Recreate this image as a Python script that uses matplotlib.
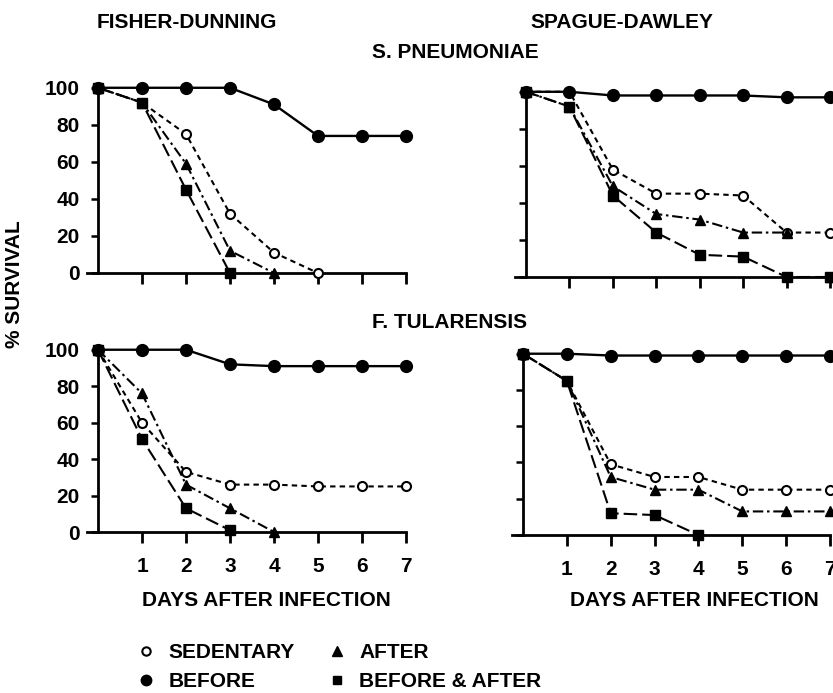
import numpy as np
import matplotlib
matplotlib.use("Agg")
import matplotlib.pyplot as plt
from matplotlib.lines import Line2D

plt.rcParams['font.family'] = ['Liberation Sans', 'DejaVu Sans']
plt.rcParams['font.weight'] = 'bold'

days = [0, 1, 2, 3, 4, 5, 6, 7]
day_ticks = [1, 2, 3, 4, 5, 6, 7]
y_ticks = [0, 20, 40, 60, 80, 100]

# S. PNEUMONIAE, FISHER-DUNNING
fd_pn_sedentary = [100, 92, 75, 32, 11, 0]
fd_pn_before = [100, 100, 100, 100, 91, 74, 74, 74]
fd_pn_after = [100, 92, 59, 12, 0]
fd_pn_both = [100, 92, 45, 0]

# S. PNEUMONIAE, SPAGUE-DAWLEY
sd_pn_sedentary = [100, 100, 58, 45, 45, 44, 24, 24]
sd_pn_before = [100, 100, 98, 98, 98, 98, 97, 97]
sd_pn_after = [100, 92, 49, 34, 31, 24, 24, 0]
sd_pn_both = [100, 92, 44, 24, 12, 11, 0, 0]

# F. TULARENSIS, FISHER-DUNNING
fd_tu_sedentary = [100, 60, 33, 26, 26, 25, 25, 25]
fd_tu_before = [100, 100, 100, 92, 91, 91, 91, 91]
fd_tu_after = [100, 76, 26, 13, 0]
fd_tu_both = [100, 51, 13, 1]

# F. TULARENSIS, SPAGUE-DAWLEY
sd_tu_sedentary = [100, 85, 39, 32, 32, 25, 25, 25]
sd_tu_before = [100, 100, 99, 99, 99, 99, 99, 99]
sd_tu_after = [100, 85, 32, 25, 25, 13, 13, 13]
sd_tu_both = [100, 85, 12, 11, 0]

legend_labels = ['SEDENTARY', 'BEFORE', 'AFTER', 'BEFORE & AFTER']

W, H = 833, 693
fig = plt.figure(figsize=(W / 100, H / 100), dpi=100)

FS = 15

styles = {
    'sedentary': dict(ls=(0, (2.6, 2.0)), marker='o', mfc='white', mec='black', ms=6.5, mew=1.5),
    'before': dict(ls='-', marker='o', mfc='black', mec='black', ms=8.5),
    'after': dict(ls=(0, (5, 1.8, 1.2, 1.8)), marker='^', mfc='black', mec='black', ms=7.5),
    'both': dict(ls=(0, (6.5, 2.4)), marker='s', mfc='black', mec='black', ms=6.8),
}


def make_axes(x0, x7, y100, y0):
    ppu = (x7 - x0) / 7.0
    left = x0 - 0.25 * ppu
    ax = fig.add_axes([left / W, 1 - y0 / H, (x7 - left) / W, (y0 - y100) / H])
    ax.set_xlim(-0.25, 7)
    ax.set_ylim(0, 101.5)
    ax.spines['top'].set_visible(False)
    ax.spines['right'].set_visible(False)
    ax.spines['left'].set_position(('data', 0))
    for s in ('left', 'bottom'):
        ax.spines[s].set_linewidth(2.0)
    ax.patch.set_alpha(0)
    return ax


def draw(ax, sed, bef, aft, both, ylabels, xlabels, after_line_n=None):
    n = len(sed)
    ax.plot(days[:n], sed, color='black', lw=1.5, clip_on=False, zorder=3, **styles['sedentary'])
    n = len(bef)
    ax.plot(days[:n], bef, color='black', lw=1.7, clip_on=False, zorder=4, **styles['before'])
    n = len(both)
    ax.plot(days[:n], both, color='black', lw=1.5, clip_on=False, zorder=5, **styles['both'])
    n = len(aft)
    st = dict(styles['after'])
    if after_line_n is None:
        ax.plot(days[:n], aft, color='black', lw=1.5, clip_on=False, zorder=6, **st)
    else:
        ls = st.pop('ls')
        ax.plot(days[:after_line_n], aft[:after_line_n], color='black', lw=1.5, ls=ls,
                clip_on=False, zorder=6)
        ax.plot(days[:n], aft, color='black', ls='none', clip_on=False, zorder=6, **st)
    ax.set_xticks(day_ticks)
    ax.set_yticks(y_ticks)
    ax.tick_params(axis='x', direction='out', length=8, width=2.0, pad=10, labelsize=FS)
    ax.tick_params(axis='y', direction='out', length=5, width=1.8, pad=8, labelsize=FS)
    if not xlabels:
        ax.set_xticklabels([])
    if not ylabels:
        ax.set_yticklabels([])
    for t in ax.get_xticklabels() + ax.get_yticklabels():
        t.set_fontweight('bold')


ax_tl = make_axes(98, 406, 85, 273)
draw(ax_tl, fd_pn_sedentary, fd_pn_before, fd_pn_after, fd_pn_both, True, False)
ax_tr = make_axes(526, 830, 89, 277)
draw(ax_tr, sd_pn_sedentary, sd_pn_before, sd_pn_after, sd_pn_both, False, False, after_line_n=7)
ax_bl = make_axes(98, 406, 347, 532)
draw(ax_bl, fd_tu_sedentary, fd_tu_before, fd_tu_after, fd_tu_both, True, True)
ax_br = make_axes(523, 830, 351, 535)
draw(ax_br, sd_tu_sedentary, sd_tu_before, sd_tu_after, sd_tu_both, False, True)


def ftext(x, y, s, **kw):
    fig.text(x / W, 1 - y / H, s, fontsize=FS, fontweight='bold', ha='center', va='center', **kw)


ftext(187, 22, 'FISHER-DUNNING')
ftext(622, 22, 'SPAGUE-DAWLEY')
ftext(455, 53, 'S. PNEUMONIAE')
ftext(450, 322, 'F. TULARENSIS')
ftext(266, 600, 'DAYS AFTER INFECTION')
ftext(694, 600, 'DAYS AFTER INFECTION')
ftext(15, 284, '% SURVIVAL', rotation=90)

handles = [
    Line2D([], [], ls='none', marker='o', mfc='white', mec='black', mew=1.5, ms=6),
    Line2D([], [], ls='none', marker='o', mfc='black', mec='black', ms=7.5),
    Line2D([], [], ls='none', marker='^', mfc='black', mec='black', ms=6.5),
    Line2D([], [], ls='none', marker='s', mfc='black', mec='black', ms=6),
]
leg = fig.legend(handles, legend_labels, ncol=2, loc='upper left',
                 bbox_to_anchor=(137 / W, 1 - 643 / H), frameon=False,
                 prop=dict(size=FS, weight='bold'), handlelength=0.9,
                 handletextpad=0.6, columnspacing=1.6, labelspacing=0.5,
                 borderpad=0, borderaxespad=0)

fig.savefig('out.png', dpi=100)
